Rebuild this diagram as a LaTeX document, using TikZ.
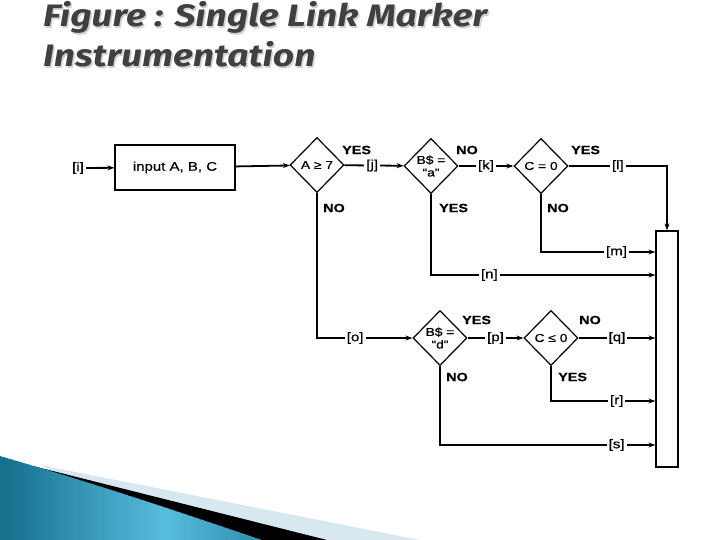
\documentclass[tikz,border=0pt]{standalone}
\usepackage{fontspec}
\setmainfont{Liberation Sans}[FakeStretch=1.2,FakeBold=0.6]
\newfontfamily\titlefont{Fira Sans}[FakeStretch=1.2]
\usetikzlibrary{shapes.geometric,arrows.meta}
\definecolor{titlegray}{RGB}{64,64,64}
\definecolor{swdark}{RGB}{22,112,142}
\definecolor{swmid}{RGB}{88,188,222}
\definecolor{swlight}{RGB}{215,232,240}
\begin{document}
\begin{tikzpicture}[x=1pt,y=-1pt,
  flow/.style={line width=1.8pt},
  arr/.style={-{Stealth[length=7pt,width=5pt]}},
  dec/.style={diamond,draw,line width=1.2pt,minimum width=54pt,minimum height=55pt,inner sep=0pt,fill=white},
  dtext/.style={font=\fontsize{11.5}{12.5}\selectfont,align=center,inner sep=0pt},
  lab/.style={font=\fontsize{12.5}{13}\selectfont,fill=white,inner sep=2pt},
  yn/.style={font=\bfseries\fontsize{12}{12}\selectfont,inner sep=0pt,anchor=west},
  ttl/.style={font=\titlefont\bfseries\itshape\fontsize{31}{34}\selectfont,anchor=base west,inner sep=0pt}]
\useasboundingbox (0,0) rectangle (720,540);
% title
\node[ttl,text=black!18] (t1s) at (44.5,28.5) {Figure : Single Link Marker};
\node[ttl,text=titlegray] (t1) at (43,27) {Figure : Single Link Marker};
\node[ttl,text=black!18] (t2s) at (44.5,68.5) {Instrumentation};
\node[ttl,text=titlegray] (t2) at (43,67) {Instrumentation};
% swoosh
\fill[swlight] (40,465) -- (420,540) -- (200,540) -- cycle;
\fill[black] (33,466) -- (327,540) -- (200,540) -- cycle;
\begin{scope}
  \clip (0,456) .. controls (90,482) and (180,512) .. (262,540) -- (0,540) -- cycle;
  \foreach \k in {0,...,88}{
    \pgfmathtruncatemacro\p{max(0,100-abs(\k*3+1.5-165)*0.62)}
    \fill[swmid!\p!swdark] (\k*3,450) rectangle ++(3.4,92);
  }
\end{scope}
% nodes
\node[lab] (i) at (78,168) {[i]};
\node[draw,line width=1.2pt,minimum width=120pt,minimum height=45pt,font=\fontsize{12.5}{13}\selectfont] (inp) at (175,167.5) {input A, B, C};
\node[dec,label={[dtext]center:A ≥ 7}] (d1) at (317,165) {};
\node[dec,label={[dtext]center:B\$ =\\``a''}] (d2) at (431,166) {};
\node[dec,label={[dtext]center:C = 0}] (d3) at (541,166) {};
\node[dec,label={[dtext]center:B\$ =\\``d''}] (d4) at (440,338) {};
\node[dec,label={[dtext]center:C ≤ 0}] (d5) at (551,338) {};
\node[draw,line width=1.2pt,fill=white,minimum width=22pt,minimum height=236pt,inner sep=0pt] (out) at (667,349) {};
% corner coordinates
\coordinate (m1) at (541,252);
\coordinate (n1) at (431,275);
\coordinate (o1) at (317,338);
\coordinate (r1) at (551,401);
\coordinate (s1) at (440,445);
% connectors
\draw[flow,arr] (i) -- (inp);
\draw[flow,arr] (inp) -- (d1);
\draw[flow,arr] (d1) -- node[lab,pos=0.47]{[j]} (d2);
\draw[flow,arr] (d2) -- node[lab]{[k]} (d3);
\draw[flow,arr] (d3.east) -- node[lab]{[l]} (d3.east -| out.north) -- (out.north);
\draw[flow,arr] (d3.south) -- (m1) -- node[lab,pos=0.66]{[m]} (m1 -| out.west);
\draw[flow,arr] (d2.south) -- (n1) -- node[lab,pos=0.26]{[n]} (n1 -| out.west);
\draw[flow,arr] (d1.south) -- (o1) -- node[lab,pos=0.40]{[o]} (d4.west);
\draw[flow,arr] (d4) -- node[lab]{[p]} (d5);
\draw[flow,arr] (d5.east) -- node[lab]{[q]} (d5.east -| out.west);
\draw[flow,arr] (d5.south) -- (r1) -- node[lab,pos=0.63]{[r]} (r1 -| out.west);
\draw[flow,arr] (d4.south) -- (s1) -- node[lab,pos=0.82]{[s]} (s1 -| out.west);
% branch labels
\node[yn] (y1) at (342,150) {YES};
\node[yn] (n2) at (456,150) {NO};
\node[yn] (y3) at (571,150) {YES};
\node[yn] (n1l) at (323,208) {NO};
\node[yn] (y2) at (439,208) {YES};
\node[yn] (n3) at (547,208) {NO};
\node[yn] (y4) at (462,320) {YES};
\node[yn] (n5) at (579,320) {NO};
\node[yn] (n4) at (446,377) {NO};
\node[yn] (y5) at (558,377) {YES};
\end{tikzpicture}
\end{document}
